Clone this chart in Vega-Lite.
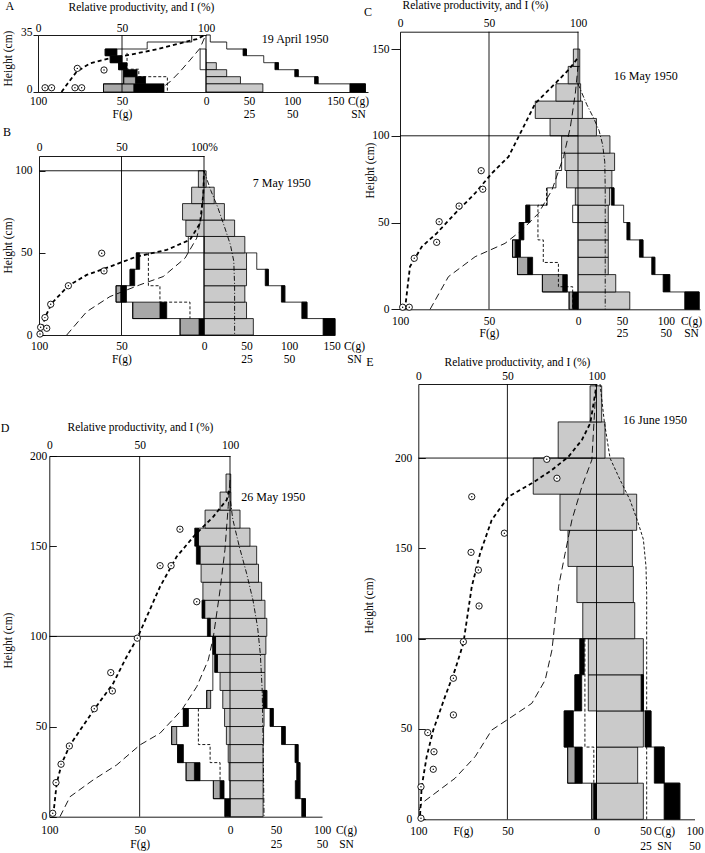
{
"$schema":"https://vega.github.io/schema/vega-lite/v6.json",
"width":705,"height":853,"autosize":{"type":"none"},"padding":0,
"config":{"font":"Liberation Serif","view":{"stroke":null},"axis":{"labelFontSize":11.5,"titleFontSize":11.5,"titleFontWeight":"normal","labelColor":"black","titleColor":"black","domainColor":"black","tickColor":"black","domainWidth":0.9,"tickWidth":0.9,"labelFlush":false,"labelOverlap":false,"grid":false}},
"datasets":{
"rects":[
{"P":"A","k":"H","y0":13.7,"y1":18,"g0":0,"g1":12},{"P":"A","k":"H","y0":9.4,"y1":13.7,"g0":0,"g1":24},{"P":"A","k":"H","y0":5,"y1":9.4,"g0":0,"g1":40},{"P":"A","k":"H","y0":0,"y1":5,"g0":0,"g1":66},
{"P":"A","k":"W","y0":13.7,"y1":26.4,"g0":-3.5,"g1":0},
{"P":"A","k":"B","y0":0,"y1":5,"g0":-43,"g1":-25},{"P":"A","k":"G","y0":0,"y1":5,"g0":-61,"g1":-43},{"P":"A","k":"B","y0":5,"y1":9.4,"g0":-42,"g1":-36},{"P":"A","k":"G","y0":5,"y1":9.4,"g0":-49,"g1":-42},{"P":"A","k":"B","y0":9.4,"y1":13.7,"g0":-49,"g1":-41},{"P":"A","k":"B","y0":13.7,"y1":18,"g0":-52,"g1":-47},{"P":"A","k":"B","y0":18,"y1":22.3,"g0":-57,"g1":-50},{"P":"A","k":"B","y0":22.3,"y1":26.4,"g0":-60,"g1":-53},
{"P":"A","k":"B","y0":22.3,"y1":26.4,"g0":43,"g1":47},{"P":"A","k":"B","y0":13.7,"y1":18,"g0":80,"g1":84},{"P":"A","k":"B","y0":9.4,"y1":13.7,"g0":103,"g1":107},{"P":"A","k":"B","y0":5,"y1":9.4,"g0":126,"g1":130},{"P":"A","k":"B","y0":0,"y1":5,"g0":167,"g1":185},

{"P":"B","k":"H","y0":0,"y1":10,"g0":0,"g1":58},{"P":"B","k":"H","y0":10,"y1":20,"g0":0,"g1":50},{"P":"B","k":"H","y0":20,"y1":30,"g0":0,"g1":48},{"P":"B","k":"H","y0":30,"y1":40,"g0":0,"g1":50},{"P":"B","k":"H","y0":40,"y1":50,"g0":0,"g1":50},{"P":"B","k":"H","y0":50,"y1":60,"g0":0,"g1":48},{"P":"B","k":"H","y0":60,"y1":70,"g0":-11,"g1":36},{"P":"B","k":"H","y0":70,"y1":80,"g0":-13,"g1":24},{"P":"B","k":"H","y0":80,"y1":90,"g0":-7.5,"g1":12},{"P":"B","k":"H","y0":90,"y1":100,"g0":-3.4,"g1":2.5},
{"P":"B","k":"W","y0":50,"y1":60,"g0":-9.5,"g1":0},
{"P":"B","k":"B","y0":0,"y1":10,"g0":-3,"g1":0},{"P":"B","k":"B","y0":10,"y1":20,"g0":-26.7,"g1":-22.6},{"P":"B","k":"B","y0":20,"y1":30,"g0":-50.5,"g1":-47},{"P":"B","k":"B","y0":30,"y1":40,"g0":-44.8,"g1":-42},{"P":"B","k":"B","y0":40,"y1":50,"g0":-41,"g1":-39},
{"P":"B","k":"G","y0":0,"y1":10,"g0":-14.5,"g1":-3},{"P":"B","k":"G","y0":10,"y1":20,"g0":-43.2,"g1":-26.7},{"P":"B","k":"G","y0":20,"y1":30,"g0":-53.3,"g1":-50.5},
{"P":"B","k":"B","y0":30,"y1":40,"g0":72,"g1":75.6},{"P":"B","k":"B","y0":20,"y1":30,"g0":91,"g1":95},{"P":"B","k":"B","y0":10,"y1":20,"g0":115,"g1":121},{"P":"B","k":"B","y0":0,"y1":10,"g0":140,"g1":154},

{"P":"C","k":"H","y0":0,"y1":10,"g0":0,"g1":59},{"P":"C","k":"H","y0":10,"y1":20,"g0":0,"g1":43},{"P":"C","k":"H","y0":20,"y1":30,"g0":0,"g1":34.5},{"P":"C","k":"H","y0":30,"y1":40,"g0":0,"g1":34.5},{"P":"C","k":"H","y0":40,"y1":50,"g0":0,"g1":34.5},{"P":"C","k":"H","y0":50,"y1":60,"g0":0,"g1":34.5},{"P":"C","k":"H","y0":60,"y1":70,"g0":-1.5,"g1":36},{"P":"C","k":"H","y0":70,"y1":80,"g0":-6.4,"g1":38.6},{"P":"C","k":"H","y0":80,"y1":90,"g0":-7.3,"g1":41.7},{"P":"C","k":"H","y0":90,"y1":100,"g0":-9.2,"g1":36.4},{"P":"C","k":"H","y0":100,"y1":110,"g0":-15.7,"g1":21},{"P":"C","k":"H","y0":110,"y1":120,"g0":-24,"g1":5},{"P":"C","k":"H","y0":120,"y1":130,"g0":-12.4,"g1":3},{"P":"C","k":"H","y0":130,"y1":140,"g0":-5.5,"g1":2},{"P":"C","k":"H","y0":140,"y1":150,"g0":-2.6,"g1":2},
{"P":"C","k":"W","y0":50,"y1":60,"g0":-3,"g1":0},
{"P":"C","k":"B","y0":0,"y1":10,"g0":-3,"g1":0},{"P":"C","k":"B","y0":10,"y1":20,"g0":-8.6,"g1":-6},{"P":"C","k":"B","y0":20,"y1":30,"g0":-28.3,"g1":-25.5},{"P":"C","k":"B","y0":30,"y1":40,"g0":-35.3,"g1":-32.3},{"P":"C","k":"B","y0":40,"y1":50,"g0":-33,"g1":-30.4},{"P":"C","k":"B","y0":50,"y1":60,"g0":-29.3,"g1":-27},
{"P":"C","k":"G","y0":0,"y1":10,"g0":-5,"g1":-3},{"P":"C","k":"G","y0":10,"y1":20,"g0":-20,"g1":-8.6},{"P":"C","k":"G","y0":20,"y1":30,"g0":-34,"g1":-28.3},{"P":"C","k":"G","y0":30,"y1":40,"g0":-36.8,"g1":-35.3},
{"P":"C","k":"B","y0":60,"y1":70,"g0":38,"g1":41},{"P":"C","k":"B","y0":40,"y1":50,"g0":55.7,"g1":59},{"P":"C","k":"B","y0":30,"y1":40,"g0":70,"g1":74},{"P":"C","k":"B","y0":20,"y1":30,"g0":84,"g1":87.5},{"P":"C","k":"B","y0":10,"y1":20,"g0":97,"g1":104.5},{"P":"C","k":"B","y0":0,"y1":10,"g0":121.6,"g1":138},

{"P":"D","k":"H","y0":0,"y1":10,"g0":0,"g1":36},{"P":"D","k":"H","y0":10,"y1":20,"g0":0,"g1":36},{"P":"D","k":"H","y0":20,"y1":30,"g0":-0.5,"g1":36},{"P":"D","k":"H","y0":30,"y1":40,"g0":-1,"g1":36},{"P":"D","k":"H","y0":40,"y1":50,"g0":-2,"g1":36.5},{"P":"D","k":"H","y0":50,"y1":60,"g0":-3,"g1":37},{"P":"D","k":"H","y0":60,"y1":70,"g0":-4,"g1":37},{"P":"D","k":"H","y0":70,"y1":80,"g0":-5.5,"g1":38},{"P":"D","k":"H","y0":80,"y1":90,"g0":-7,"g1":38},{"P":"D","k":"H","y0":90,"y1":100,"g0":-8,"g1":39},{"P":"D","k":"H","y0":100,"y1":110,"g0":-11,"g1":40},{"P":"D","k":"H","y0":110,"y1":120,"g0":-14,"g1":38},{"P":"D","k":"H","y0":120,"y1":130,"g0":-15,"g1":34.4},{"P":"D","k":"H","y0":130,"y1":140,"g0":-16,"g1":31},{"P":"D","k":"H","y0":140,"y1":150,"g0":-16.6,"g1":29},{"P":"D","k":"H","y0":150,"y1":160,"g0":-17.5,"g1":21.7},{"P":"D","k":"H","y0":160,"y1":170,"g0":-13.8,"g1":10.9},{"P":"D","k":"H","y0":170,"y1":180,"g0":-5.5,"g1":1},{"P":"D","k":"H","y0":180,"y1":190,"g0":-2.2,"g1":0.8},
{"P":"D","k":"B","y0":0,"y1":10,"g0":-2.8,"g1":0},{"P":"D","k":"B","y0":10,"y1":20,"g0":-5.5,"g1":-3.3},{"P":"D","k":"B","y0":20,"y1":30,"g0":-19.7,"g1":-16.6},{"P":"D","k":"B","y0":30,"y1":40,"g0":-29,"g1":-25.8},{"P":"D","k":"B","y0":50,"y1":60,"g0":-25.8,"g1":-23},{"P":"D","k":"B","y0":80,"y1":90,"g0":-8.5,"g1":-7},{"P":"D","k":"B","y0":90,"y1":100,"g0":-9.5,"g1":-8},{"P":"D","k":"B","y0":100,"y1":110,"g0":-12.5,"g1":-11},{"P":"D","k":"B","y0":110,"y1":120,"g0":-15.5,"g1":-14},{"P":"D","k":"B","y0":140,"y1":150,"g0":-18.6,"g1":-16.6},{"P":"D","k":"B","y0":150,"y1":160,"g0":-19.5,"g1":-17.5},
{"P":"D","k":"G","y0":10,"y1":20,"g0":-9.2,"g1":-5.5},{"P":"D","k":"G","y0":20,"y1":30,"g0":-24.3,"g1":-19.7},{"P":"D","k":"G","y0":40,"y1":50,"g0":-32.3,"g1":-29.5},{"P":"D","k":"G","y0":60,"y1":70,"g0":-12.9,"g1":-10.7},
{"P":"D","k":"B","y0":60,"y1":70,"g0":36,"g1":40},{"P":"D","k":"B","y0":50,"y1":60,"g0":43.5,"g1":47},{"P":"D","k":"B","y0":40,"y1":50,"g0":56,"g1":60},{"P":"D","k":"B","y0":30,"y1":40,"g0":70.7,"g1":74},{"P":"D","k":"B","y0":20,"y1":30,"g0":72.5,"g1":76},{"P":"D","k":"B","y0":10,"y1":20,"g0":71,"g1":76},{"P":"D","k":"B","y0":0,"y1":10,"g0":78,"g1":82},

{"P":"E","k":"H","y0":0,"y1":20,"g0":0,"g1":47.8},{"P":"E","k":"H","y0":20,"y1":40,"g0":0,"g1":42},{"P":"E","k":"H","y0":40,"y1":60,"g0":0,"g1":47.8},{"P":"E","k":"H","y0":60,"y1":80,"g0":-4.6,"g1":47.8},{"P":"E","k":"H","y0":80,"y1":100,"g0":-4.6,"g1":47.8},{"P":"E","k":"H","y0":100,"y1":120,"g0":-7.7,"g1":39},{"P":"E","k":"H","y0":120,"y1":140,"g0":-11,"g1":37.6},{"P":"E","k":"H","y0":140,"y1":160,"g0":-16,"g1":36.6},{"P":"E","k":"H","y0":160,"y1":180,"g0":-20.5,"g1":41},{"P":"E","k":"H","y0":180,"y1":200,"g0":-35.5,"g1":28},{"P":"E","k":"H","y0":200,"y1":220,"g0":-21.5,"g1":8.7},{"P":"E","k":"H","y0":220,"y1":240,"g0":-3.6,"g1":5.3},
{"P":"E","k":"B","y0":0,"y1":20,"g0":-1.6,"g1":0},{"P":"E","k":"B","y0":20,"y1":40,"g0":-12.1,"g1":-8},{"P":"E","k":"B","y0":40,"y1":60,"g0":-18.1,"g1":-13},{"P":"E","k":"B","y0":60,"y1":80,"g0":-12.1,"g1":-8.3},{"P":"E","k":"B","y0":80,"y1":100,"g0":-9.3,"g1":-6.9},
{"P":"E","k":"G","y0":0,"y1":20,"g0":-2.7,"g1":-1.6},{"P":"E","k":"G","y0":20,"y1":40,"g0":-16.2,"g1":-12.1},
{"P":"E","k":"B","y0":0,"y1":20,"g0":69,"g1":85},{"P":"E","k":"B","y0":20,"y1":40,"g0":59,"g1":69},{"P":"E","k":"B","y0":40,"y1":60,"g0":49.5,"g1":55.6},{"P":"E","k":"B","y0":60,"y1":80,"g0":45.5,"g1":48}
],
"lines":[
{"P":"A","s":"Fo","t":"s","o":1,"g":-8.5,"h":35},{"P":"A","s":"Fo","t":"s","o":2,"g":-8.5,"h":30.7},{"P":"A","s":"Fo","t":"s","o":3,"g":-35,"h":30.7},{"P":"A","s":"Fo","t":"s","o":4,"g":-35,"h":26.4},{"P":"A","s":"Fo","t":"s","o":5,"g":-60,"h":26.4},{"P":"A","s":"Fo","t":"s","o":6,"g":-60,"h":22.3},{"P":"A","s":"Fo","t":"s","o":7,"g":-57,"h":22.3},{"P":"A","s":"Fo","t":"s","o":8,"g":-57,"h":18},{"P":"A","s":"Fo","t":"s","o":9,"g":-52,"h":18},{"P":"A","s":"Fo","t":"s","o":10,"g":-52,"h":13.7},{"P":"A","s":"Fo","t":"s","o":11,"g":-49,"h":13.7},{"P":"A","s":"Fo","t":"s","o":12,"g":-49,"h":5},{"P":"A","s":"Fo","t":"s","o":13,"g":-61,"h":5},{"P":"A","s":"Fo","t":"s","o":14,"g":-61,"h":0},
{"P":"A","s":"Fd","t":"d","o":1,"g":-47,"h":24},{"P":"A","s":"Fd","t":"d","o":2,"g":-47,"h":14},{"P":"A","s":"Fd","t":"d","o":3,"g":-40,"h":14},{"P":"A","s":"Fd","t":"d","o":4,"g":-40,"h":9.4},{"P":"A","s":"Fd","t":"d","o":5,"g":-23,"h":9.4},{"P":"A","s":"Fd","t":"d","o":6,"g":-23,"h":0},
{"P":"A","s":"Co","t":"s","o":1,"g":0,"h":35},{"P":"A","s":"Co","t":"s","o":2,"g":5,"h":35},{"P":"A","s":"Co","t":"s","o":3,"g":5,"h":30.7},{"P":"A","s":"Co","t":"s","o":4,"g":24,"h":30.7},{"P":"A","s":"Co","t":"s","o":5,"g":24,"h":26.4},{"P":"A","s":"Co","t":"s","o":6,"g":47,"h":26.4},{"P":"A","s":"Co","t":"s","o":7,"g":47,"h":22.3},{"P":"A","s":"Co","t":"s","o":8,"g":67,"h":22.3},{"P":"A","s":"Co","t":"s","o":9,"g":67,"h":18},{"P":"A","s":"Co","t":"s","o":10,"g":84,"h":18},{"P":"A","s":"Co","t":"s","o":11,"g":84,"h":13.7},{"P":"A","s":"Co","t":"s","o":12,"g":107,"h":13.7},{"P":"A","s":"Co","t":"s","o":13,"g":107,"h":9.4},{"P":"A","s":"Co","t":"s","o":14,"g":130,"h":9.4},{"P":"A","s":"Co","t":"s","o":15,"g":130,"h":5},{"P":"A","s":"Co","t":"s","o":16,"g":185,"h":5},{"P":"A","s":"Co","t":"s","o":17,"g":185,"h":0},

{"P":"B","s":"Fo","t":"s","o":1,"g":-9.5,"h":50},{"P":"B","s":"Fo","t":"s","o":2,"g":-41,"h":50},{"P":"B","s":"Fo","t":"s","o":3,"g":-41,"h":40},{"P":"B","s":"Fo","t":"s","o":4,"g":-44.8,"h":40},{"P":"B","s":"Fo","t":"s","o":5,"g":-44.8,"h":30},{"P":"B","s":"Fo","t":"s","o":6,"g":-53.3,"h":30},{"P":"B","s":"Fo","t":"s","o":7,"g":-53.3,"h":20},{"P":"B","s":"Fo","t":"s","o":8,"g":-43.2,"h":20},{"P":"B","s":"Fo","t":"s","o":9,"g":-43.2,"h":10},{"P":"B","s":"Fo","t":"s","o":10,"g":-14.5,"h":10},{"P":"B","s":"Fo","t":"s","o":11,"g":-14.5,"h":0},
{"P":"B","s":"Fd","t":"d","o":1,"g":-33.7,"h":50},{"P":"B","s":"Fd","t":"d","o":2,"g":-33.7,"h":30},{"P":"B","s":"Fd","t":"d","o":3,"g":-26.7,"h":30},{"P":"B","s":"Fd","t":"d","o":4,"g":-26.7,"h":20},{"P":"B","s":"Fd","t":"d","o":5,"g":-8.5,"h":20},{"P":"B","s":"Fd","t":"d","o":6,"g":-8.5,"h":10},
{"P":"B","s":"Co","t":"s","o":1,"g":50,"h":50},{"P":"B","s":"Co","t":"s","o":2,"g":62,"h":50},{"P":"B","s":"Co","t":"s","o":3,"g":62,"h":40},{"P":"B","s":"Co","t":"s","o":4,"g":75.6,"h":40},{"P":"B","s":"Co","t":"s","o":5,"g":75.6,"h":30},{"P":"B","s":"Co","t":"s","o":6,"g":95,"h":30},{"P":"B","s":"Co","t":"s","o":7,"g":95,"h":20},{"P":"B","s":"Co","t":"s","o":8,"g":121,"h":20},{"P":"B","s":"Co","t":"s","o":9,"g":121,"h":10},{"P":"B","s":"Co","t":"s","o":10,"g":154,"h":10},{"P":"B","s":"Co","t":"s","o":11,"g":154,"h":0},
{"P":"B","s":"Cc","t":"c","o":1,"g":0,"h":100},{"P":"B","s":"Cc","t":"c","o":2,"g":8,"h":88},{"P":"B","s":"Cc","t":"c","o":3,"g":16,"h":78},{"P":"B","s":"Cc","t":"c","o":4,"g":24,"h":66},{"P":"B","s":"Cc","t":"c","o":5,"g":31,"h":55},{"P":"B","s":"Cc","t":"c","o":6,"g":35,"h":45},{"P":"B","s":"Cc","t":"c","o":7,"g":36,"h":30},{"P":"B","s":"Cc","t":"c","o":8,"g":36,"h":0},

{"P":"C","s":"Fo","t":"s","o":1,"g":-9.2,"h":90},{"P":"C","s":"Fo","t":"s","o":2,"g":-9.2,"h":80},{"P":"C","s":"Fo","t":"s","o":3,"g":-12.4,"h":80},{"P":"C","s":"Fo","t":"s","o":4,"g":-12.4,"h":70},{"P":"C","s":"Fo","t":"s","o":5,"g":-17.3,"h":70},{"P":"C","s":"Fo","t":"s","o":6,"g":-17.3,"h":60},{"P":"C","s":"Fo","t":"s","o":7,"g":-29.3,"h":60},{"P":"C","s":"Fo","t":"s","o":8,"g":-29.3,"h":50},{"P":"C","s":"Fo","t":"s","o":9,"g":-33,"h":50},{"P":"C","s":"Fo","t":"s","o":10,"g":-33,"h":40},{"P":"C","s":"Fo","t":"s","o":11,"g":-36.8,"h":40},{"P":"C","s":"Fo","t":"s","o":12,"g":-36.8,"h":30},{"P":"C","s":"Fo","t":"s","o":13,"g":-34,"h":30},{"P":"C","s":"Fo","t":"s","o":14,"g":-34,"h":20},{"P":"C","s":"Fo","t":"s","o":15,"g":-20,"h":20},{"P":"C","s":"Fo","t":"s","o":16,"g":-20,"h":10},{"P":"C","s":"Fo","t":"s","o":17,"g":-5,"h":10},{"P":"C","s":"Fo","t":"s","o":18,"g":-5,"h":0},
{"P":"C","s":"Fd","t":"d","o":1,"g":-17.7,"h":70},{"P":"C","s":"Fd","t":"d","o":2,"g":-17.7,"h":60},{"P":"C","s":"Fd","t":"d","o":3,"g":-22.5,"h":60},{"P":"C","s":"Fd","t":"d","o":4,"g":-22.5,"h":40},{"P":"C","s":"Fd","t":"d","o":5,"g":-19.5,"h":40},{"P":"C","s":"Fd","t":"d","o":6,"g":-19.5,"h":27},{"P":"C","s":"Fd","t":"d","o":7,"g":-11,"h":27},{"P":"C","s":"Fd","t":"d","o":8,"g":-11,"h":13},{"P":"C","s":"Fd","t":"d","o":9,"g":-3,"h":13},{"P":"C","s":"Fd","t":"d","o":10,"g":-3,"h":0},
{"P":"C","s":"Co","t":"s","o":1,"g":36,"h":70},{"P":"C","s":"Co","t":"s","o":2,"g":41,"h":70},{"P":"C","s":"Co","t":"s","o":3,"g":41,"h":60},{"P":"C","s":"Co","t":"s","o":4,"g":52,"h":60},{"P":"C","s":"Co","t":"s","o":5,"g":52,"h":50},{"P":"C","s":"Co","t":"s","o":6,"g":59,"h":50},{"P":"C","s":"Co","t":"s","o":7,"g":59,"h":40},{"P":"C","s":"Co","t":"s","o":8,"g":74,"h":40},{"P":"C","s":"Co","t":"s","o":9,"g":74,"h":30},{"P":"C","s":"Co","t":"s","o":10,"g":87.5,"h":30},{"P":"C","s":"Co","t":"s","o":11,"g":87.5,"h":20},{"P":"C","s":"Co","t":"s","o":12,"g":104.5,"h":20},{"P":"C","s":"Co","t":"s","o":13,"g":104.5,"h":10},{"P":"C","s":"Co","t":"s","o":14,"g":138,"h":10},{"P":"C","s":"Co","t":"s","o":15,"g":138,"h":0},
{"P":"C","s":"Cc","t":"c","o":1,"g":0,"h":130},{"P":"C","s":"Cc","t":"c","o":2,"g":10,"h":118},{"P":"C","s":"Cc","t":"c","o":3,"g":18,"h":110},{"P":"C","s":"Cc","t":"c","o":4,"g":24,"h":103},{"P":"C","s":"Cc","t":"c","o":5,"g":28,"h":95},{"P":"C","s":"Cc","t":"c","o":6,"g":30.5,"h":85},{"P":"C","s":"Cc","t":"c","o":7,"g":31,"h":70},{"P":"C","s":"Cc","t":"c","o":8,"g":31,"h":0},

{"P":"D","s":"Fo","t":"s","o":1,"g":-9.5,"h":100},{"P":"D","s":"Fo","t":"s","o":2,"g":-9.5,"h":70},{"P":"D","s":"Fo","t":"s","o":3,"g":-12.9,"h":70},{"P":"D","s":"Fo","t":"s","o":4,"g":-12.9,"h":60},{"P":"D","s":"Fo","t":"s","o":5,"g":-25.8,"h":60},{"P":"D","s":"Fo","t":"s","o":6,"g":-25.8,"h":50},{"P":"D","s":"Fo","t":"s","o":7,"g":-32.3,"h":50},{"P":"D","s":"Fo","t":"s","o":8,"g":-32.3,"h":40},{"P":"D","s":"Fo","t":"s","o":9,"g":-29,"h":40},{"P":"D","s":"Fo","t":"s","o":10,"g":-29,"h":30},{"P":"D","s":"Fo","t":"s","o":11,"g":-24.3,"h":30},{"P":"D","s":"Fo","t":"s","o":12,"g":-24.3,"h":20},{"P":"D","s":"Fo","t":"s","o":13,"g":-9.2,"h":20},{"P":"D","s":"Fo","t":"s","o":14,"g":-9.2,"h":10},{"P":"D","s":"Fo","t":"s","o":15,"g":-2.8,"h":10},{"P":"D","s":"Fo","t":"s","o":16,"g":-2.8,"h":0},
{"P":"D","s":"Fd","t":"d","o":1,"g":-17.5,"h":60},{"P":"D","s":"Fd","t":"d","o":2,"g":-17.5,"h":40},{"P":"D","s":"Fd","t":"d","o":3,"g":-11,"h":40},{"P":"D","s":"Fd","t":"d","o":4,"g":-11,"h":30},{"P":"D","s":"Fd","t":"d","o":5,"g":-5.5,"h":30},{"P":"D","s":"Fd","t":"d","o":6,"g":-5.5,"h":20},
{"P":"D","s":"Co","t":"s","o":1,"g":37,"h":70},{"P":"D","s":"Co","t":"s","o":2,"g":40,"h":70},{"P":"D","s":"Co","t":"s","o":3,"g":40,"h":60},{"P":"D","s":"Co","t":"s","o":4,"g":47,"h":60},{"P":"D","s":"Co","t":"s","o":5,"g":47,"h":50},{"P":"D","s":"Co","t":"s","o":6,"g":60,"h":50},{"P":"D","s":"Co","t":"s","o":7,"g":60,"h":40},{"P":"D","s":"Co","t":"s","o":8,"g":74,"h":40},{"P":"D","s":"Co","t":"s","o":9,"g":74,"h":30},{"P":"D","s":"Co","t":"s","o":10,"g":76,"h":30},{"P":"D","s":"Co","t":"s","o":11,"g":76,"h":10},{"P":"D","s":"Co","t":"s","o":12,"g":82,"h":10},{"P":"D","s":"Co","t":"s","o":13,"g":82,"h":0},
{"P":"D","s":"Cc","t":"c","o":1,"g":0.5,"h":175},{"P":"D","s":"Cc","t":"c","o":2,"g":3,"h":165},{"P":"D","s":"Cc","t":"c","o":3,"g":10,"h":150},{"P":"D","s":"Cc","t":"c","o":4,"g":18,"h":135},{"P":"D","s":"Cc","t":"c","o":5,"g":25,"h":120},{"P":"D","s":"Cc","t":"c","o":6,"g":30,"h":105},{"P":"D","s":"Cc","t":"c","o":7,"g":33,"h":90},{"P":"D","s":"Cc","t":"c","o":8,"g":35,"h":70},{"P":"D","s":"Cc","t":"c","o":9,"g":36,"h":40},{"P":"D","s":"Cc","t":"c","o":10,"g":37,"h":0},

{"P":"E","s":"Fo","t":"s","o":1,"g":-9.3,"h":100},{"P":"E","s":"Fo","t":"s","o":2,"g":-9.3,"h":80},{"P":"E","s":"Fo","t":"s","o":3,"g":-12.1,"h":80},{"P":"E","s":"Fo","t":"s","o":4,"g":-12.1,"h":60},{"P":"E","s":"Fo","t":"s","o":5,"g":-18.1,"h":60},{"P":"E","s":"Fo","t":"s","o":6,"g":-18.1,"h":40},{"P":"E","s":"Fo","t":"s","o":7,"g":-16.2,"h":40},{"P":"E","s":"Fo","t":"s","o":8,"g":-16.2,"h":20},{"P":"E","s":"Fo","t":"s","o":9,"g":-2.7,"h":20},{"P":"E","s":"Fo","t":"s","o":10,"g":-2.7,"h":0},
{"P":"E","s":"Fd","t":"d","o":1,"g":-6.5,"h":100},{"P":"E","s":"Fd","t":"d","o":2,"g":-6.5,"h":40},{"P":"E","s":"Fd","t":"d","o":3,"g":-1.5,"h":40},{"P":"E","s":"Fd","t":"d","o":4,"g":-1.5,"h":20},
{"P":"E","s":"Co","t":"s","o":1,"g":47.8,"h":60},{"P":"E","s":"Co","t":"s","o":2,"g":55.6,"h":60},{"P":"E","s":"Co","t":"s","o":3,"g":55.6,"h":40},{"P":"E","s":"Co","t":"s","o":4,"g":69,"h":40},{"P":"E","s":"Co","t":"s","o":5,"g":69,"h":20},{"P":"E","s":"Co","t":"s","o":6,"g":85,"h":20},{"P":"E","s":"Co","t":"s","o":7,"g":85,"h":0},
{"P":"E","s":"Cc","t":"d","o":1,"g":3.6,"h":241},{"P":"E","s":"Cc","t":"d","o":2,"g":8,"h":220},{"P":"E","s":"Cc","t":"d","o":3,"g":13.8,"h":200},{"P":"E","s":"Cc","t":"d","o":4,"g":24,"h":188},{"P":"E","s":"Cc","t":"d","o":5,"g":34,"h":177},{"P":"E","s":"Cc","t":"d","o":6,"g":42,"h":165},{"P":"E","s":"Cc","t":"d","o":7,"g":47.8,"h":155},{"P":"E","s":"Cc","t":"d","o":8,"g":50.5,"h":140},{"P":"E","s":"Cc","t":"d","o":9,"g":51.2,"h":125},{"P":"E","s":"Cc","t":"d","o":10,"g":51.2,"h":0}
],
"rules":[
{"P":"A","x":50,"x2":50,"y":0,"y2":35},{"P":"A","x":100,"x2":100,"y":0,"y2":35},
{"P":"B","x":50,"x2":50,"y":0,"y2":109},{"P":"B","x":100,"x2":100,"y":0,"y2":109},{"P":"B","x":0,"x2":100,"y":100,"y2":100},
{"P":"C","x":50,"x2":50,"y":0,"y2":160},{"P":"C","x":100,"x2":100,"y":0,"y2":160},{"P":"C","x":0,"x2":100,"y":100,"y2":100},
{"P":"D","x":50,"x2":50,"y":0,"y2":200},{"P":"D","x":100,"x2":100,"y":0,"y2":200},{"P":"D","x":0,"x2":100,"y":100,"y2":100},
{"P":"E","x":50,"x2":50,"y":0,"y2":241},{"P":"E","x":100,"x2":100,"y":0,"y2":241},{"P":"E","x":0,"x2":100,"y":100,"y2":100},{"P":"E","x":0,"x2":100,"y":200,"y2":200}
],
"curves":[
{"P":"A","c":"RP","p":14,"h":0},{"P":"A","c":"RP","p":17,"h":4.3},{"P":"A","c":"RP","p":23,"h":12.5},{"P":"A","c":"RP","p":31,"h":17.6},{"P":"A","c":"RP","p":42.9,"h":20.7},{"P":"A","c":"RP","p":56.7,"h":23.3},{"P":"A","c":"RP","p":70.6,"h":26.2},{"P":"A","c":"RP","p":84.5,"h":29.9},{"P":"A","c":"RP","p":94.5,"h":32.5},{"P":"A","c":"RP","p":99.4,"h":35},
{"P":"A","c":"I","p":70.6,"h":0},{"P":"A","c":"I","p":78.6,"h":6.3},{"P":"A","c":"I","p":84.5,"h":12.5},{"P":"A","c":"I","p":90.5,"h":19.6},{"P":"A","c":"I","p":96.4,"h":26.8},{"P":"A","c":"I","p":99.4,"h":34},
{"P":"B","c":"RP","p":0.6,"h":0},{"P":"B","c":"RP","p":3.6,"h":10.5},{"P":"B","c":"RP","p":7.7,"h":19.3},{"P":"B","c":"RP","p":17.8,"h":30},{"P":"B","c":"RP","p":28.9,"h":36.6},{"P":"B","c":"RP","p":43,"h":41.6},{"P":"B","c":"RP","p":59,"h":47.7},{"P":"B","c":"RP","p":77.4,"h":51.8},{"P":"B","c":"RP","p":91.5,"h":58},{"P":"B","c":"RP","p":97.6,"h":68},{"P":"B","c":"RP","p":99.6,"h":86},{"P":"B","c":"RP","p":100,"h":100},
{"P":"B","c":"I","p":16.8,"h":0},{"P":"B","c":"I","p":28.9,"h":14.2},{"P":"B","c":"I","p":43,"h":23.4},{"P":"B","c":"I","p":61,"h":30.5},{"P":"B","c":"I","p":75.3,"h":35.6},{"P":"B","c":"I","p":88.5,"h":46.8},{"P":"B","c":"I","p":95.6,"h":59},{"P":"B","c":"I","p":98.6,"h":73},{"P":"B","c":"I","p":99.6,"h":88},{"P":"B","c":"I","p":100,"h":99},
{"P":"C","c":"RP","p":2.8,"h":0},{"P":"C","c":"RP","p":5.6,"h":24.6},{"P":"C","c":"RP","p":12.2,"h":36},{"P":"C","c":"RP","p":20.6,"h":43.8},{"P":"C","c":"RP","p":31,"h":55.3},{"P":"C","c":"RP","p":42.2,"h":66.9},{"P":"C","c":"RP","p":51.6,"h":78.4},{"P":"C","c":"RP","p":61,"h":88},{"P":"C","c":"RP","p":68.5,"h":103.3},{"P":"C","c":"RP","p":76,"h":118.7},{"P":"C","c":"RP","p":85.4,"h":128.3},{"P":"C","c":"RP","p":94.7,"h":138},{"P":"C","c":"RP","p":100,"h":145},
{"P":"C","c":"I","p":16.9,"h":0},{"P":"C","c":"I","p":27.2,"h":18.8},{"P":"C","c":"I","p":42.2,"h":30.3},{"P":"C","c":"I","p":59,"h":38},{"P":"C","c":"I","p":68.5,"h":45.7},{"P":"C","c":"I","p":77.8,"h":55.3},{"P":"C","c":"I","p":85.4,"h":68.8},{"P":"C","c":"I","p":91.9,"h":88},{"P":"C","c":"I","p":95.7,"h":105},{"P":"C","c":"I","p":98.5,"h":124.5},{"P":"C","c":"I","p":100,"h":140},
{"P":"D","c":"RP","p":2.2,"h":0.9},{"P":"D","c":"RP","p":4.1,"h":18.5},{"P":"D","c":"RP","p":6.9,"h":29.6},{"P":"D","c":"RP","p":11.5,"h":39.8},{"P":"D","c":"RP","p":25.3,"h":60.1},{"P":"D","c":"RP","p":35.4,"h":74},{"P":"D","c":"RP","p":42.8,"h":88.7},{"P":"D","c":"RP","p":48.7,"h":99},{"P":"D","c":"RP","p":61.3,"h":127.6},{"P":"D","c":"RP","p":70.5,"h":144.2},{"P":"D","c":"RP","p":80.6,"h":156.2},{"P":"D","c":"RP","p":90.8,"h":166.4},{"P":"D","c":"RP","p":98.2,"h":175.7},{"P":"D","c":"RP","p":100,"h":183},
{"P":"D","c":"I","p":5.9,"h":0},{"P":"D","c":"I","p":11.5,"h":11.1},{"P":"D","c":"I","p":24.3,"h":20.4},{"P":"D","c":"I","p":37.3,"h":28.7},{"P":"D","c":"I","p":50.2,"h":39.8},{"P":"D","c":"I","p":61.3,"h":46.3},{"P":"D","c":"I","p":73.3,"h":59.2},{"P":"D","c":"I","p":81.6,"h":72.1},{"P":"D","c":"I","p":88,"h":87},{"P":"D","c":"I","p":90.8,"h":99.8},{"P":"D","c":"I","p":94.5,"h":125.7},{"P":"D","c":"I","p":97.2,"h":148},{"P":"D","c":"I","p":99,"h":172},{"P":"D","c":"I","p":100,"h":186.7},
{"P":"E","c":"RP","p":1,"h":2.4},{"P":"E","c":"RP","p":1.9,"h":18},{"P":"E","c":"RP","p":4.7,"h":34.7},{"P":"E","c":"RP","p":8.4,"h":49.4},{"P":"E","c":"RP","p":15,"h":67.9},{"P":"E","c":"RP","p":20.6,"h":82.7},{"P":"E","c":"RP","p":25.3,"h":97.5},{"P":"E","c":"RP","p":30,"h":128.8},{"P":"E","c":"RP","p":34.7,"h":147.3},{"P":"E","c":"RP","p":41.2,"h":165.7},{"P":"E","c":"RP","p":50.6,"h":178.6},{"P":"E","c":"RP","p":63.7,"h":186},{"P":"E","c":"RP","p":75,"h":193.4},{"P":"E","c":"RP","p":84.3,"h":200.8},{"P":"E","c":"RP","p":91.8,"h":210},{"P":"E","c":"RP","p":96.5,"h":219.3},{"P":"E","c":"RP","p":99.3,"h":235.9},{"P":"E","c":"RP","p":100,"h":241},
{"P":"E","c":"I","p":0.5,"h":5},{"P":"E","c":"I","p":1.9,"h":8.9},{"P":"E","c":"I","p":9.4,"h":14.4},{"P":"E","c":"I","p":20.6,"h":22.7},{"P":"E","c":"I","p":31.9,"h":34.7},{"P":"E","c":"I","p":41.2,"h":49.4},{"P":"E","c":"I","p":52.5,"h":56.8},{"P":"E","c":"I","p":63.7,"h":64.2},{"P":"E","c":"I","p":71.2,"h":77.1},{"P":"E","c":"I","p":75,"h":93.7},{"P":"E","c":"I","p":75.8,"h":101},{"P":"E","c":"I","p":78.7,"h":128.8},{"P":"E","c":"I","p":82.4,"h":147.3},{"P":"E","c":"I","p":86.2,"h":165.7},{"P":"E","c":"I","p":91.8,"h":184.2},{"P":"E","c":"I","p":97.4,"h":199},{"P":"E","c":"I","p":99.5,"h":236}
],
"circles":[
{"P":"A","p":4.2,"h":2.6},{"P":"A","p":8.1,"h":2.6},{"P":"A","p":22,"h":2.6},{"P":"A","p":26,"h":2.6},{"P":"A","p":23.4,"h":14.5},{"P":"A","p":39.3,"h":13.5},
{"P":"B","p":0.6,"h":0.6},{"P":"B","p":1,"h":4.7},{"P":"B","p":4.7,"h":4.1},{"P":"B","p":3.6,"h":10.6},{"P":"B","p":7.1,"h":18.7},{"P":"B","p":17.8,"h":30},{"P":"B","p":38,"h":49.8},{"P":"B","p":39.4,"h":39},
{"P":"C","p":1.5,"h":1.2},{"P":"C","p":5.2,"h":1.2},{"P":"C","p":8,"h":29.4},{"P":"C","p":20.6,"h":38.6},{"P":"C","p":22,"h":50.5},{"P":"C","p":33.2,"h":59.5},{"P":"C","p":46.5,"h":69.2},{"P":"C","p":45.6,"h":79.9},
{"P":"D","p":1.9,"h":1.9},{"P":"D","p":3.7,"h":18.9},{"P":"D","p":6.5,"h":29.1},{"P":"D","p":11.1,"h":39.2},{"P":"D","p":24.9,"h":59.9},{"P":"D","p":34.9,"h":69.7},{"P":"D","p":34,"h":79.9},{"P":"D","p":48.7,"h":99},{"P":"D","p":81.6,"h":119.2},{"P":"D","p":61.3,"h":139.2},{"P":"D","p":67.4,"h":139.2},{"P":"D","p":72.3,"h":159.4},
{"P":"E","p":1.5,"h":0.6},{"P":"E","p":1.5,"h":18},{"P":"E","p":5.3,"h":48},{"P":"E","p":8.4,"h":27.7},{"P":"E","p":8.8,"h":37.4},{"P":"E","p":19.7,"h":57.8},{"P":"E","p":19.7,"h":78.1},{"P":"E","p":25.3,"h":98.3},{"P":"E","p":33.7,"h":138},{"P":"E","p":34.1,"h":118.1},{"P":"E","p":29.6,"h":147.8},{"P":"E","p":30,"h":178.6},{"P":"E","p":48.3,"h":158.4},{"P":"E","p":72.1,"h":199.3},{"P":"E","p":77.8,"h":188.8}
],
"texts":[
{"P":"A","g":103.5,"h":32.3,"txt":"19 April 1950"},{"P":"A","g":-116.7,"h":52.8,"txt":"A"},
{"P":"B","g":91.4,"h":92.5,"txt":"7 May 1950"},{"P":"B","g":-119.4,"h":123.8,"txt":"B"},
{"P":"C","g":77.3,"h":134.6,"txt":"16 May 1950"},{"P":"C","g":-118,"h":171.4,"txt":"C"},
{"P":"D","g":47,"h":177.5,"txt":"26 May 1950"},{"P":"D","g":-124.5,"h":215.6,"txt":"D"},
{"P":"E","g":59.7,"h":221,"txt":"16 June 1950"},{"P":"E","g":-127.2,"h":253.2,"txt":"E"}
]
},
"resolve":{"scale":{"x":"independent","y":"independent"},"axis":{"x":"independent","y":"independent"}},
"layer":[
{"data":{"name":"rects"},"transform":[{"filter":"datum.P=='A'"}],"mark":{"type":"rect","stroke":"black","strokeWidth":0.8},
"encoding":{"x":{"field":"g0","type":"quantitative","scale":{"domain":[-100,0,188],"range":[38,206,368],"zero":false,"nice":false},"axis":{"orient":"bottom","offset":-761,"values":[-100,-50,0,50,100,150],"ticks":false,"labelPadding":3,"labelLineHeight":13,"labelExpr":"datum.value==-100?'100':datum.value==-50?['50','F(g)']:datum.value==0?'0':datum.value==50?['50','25']:datum.value==100?['100','50']:'150'","title":["C(g)","SN"],"titleX":358,"titleY":3,"titleAngle":0,"titleAlign":"center","titleBaseline":"top","titleLineHeight":13}},"x2":{"field":"g1"},
"y":{"field":"y0","type":"quantitative","scale":{"domain":[0,35],"range":[92,35],"zero":false,"nice":false},"axis":null},"y2":{"field":"y1"},
"fill":{"field":"k","type":"nominal","scale":{"domain":["H","B","G","W"],"range":["#cacaca","#000000","#a8a8a8","#ffffff"]},"legend":null}}},
{"data":{"name":"lines"},"transform":[{"filter":"datum.P=='A'"}],"mark":{"type":"line","color":"black","strokeWidth":0.9},
"encoding":{"x":{"field":"g","type":"quantitative","scale":{"domain":[-100,0,188],"range":[38,206,368],"zero":false,"nice":false},"axis":null},"y":{"field":"h","type":"quantitative","scale":{"domain":[0,35],"range":[92,35],"zero":false,"nice":false},"axis":null},"detail":{"field":"s","type":"nominal"},"order":{"field":"o","type":"quantitative"},"strokeDash":{"condition":[{"test":"datum.t=='d'","value":[3,2]},{"test":"datum.t=='c'","value":[5,2,1,2]}],"value":[1,0]}}},
{"data":{"name":"rules"},"transform":[{"filter":"datum.P=='A'"}],"mark":{"type":"rule","color":"black","strokeWidth":0.9},
"encoding":{"x":{"field":"x","type":"quantitative","scale":{"domain":[0,100],"range":[38,206],"zero":false,"nice":false},"axis":{"orient":"top","offset":-35,"values":[0,50,100],"ticks":false,"labelPadding":2,"title":"Relative productivity, and I (%)","titleX":141,"titleY":-28,"titleAngle":0,"titleAlign":"center","titleBaseline":"middle"}},"x2":{"field":"x2"},
"y":{"field":"y","type":"quantitative","scale":{"domain":[0,35],"range":[92,35],"zero":false,"nice":false},"axis":{"orient":"left","offset":-38,"values":[0,35],"tickSize":5,"labelPadding":1,"labelOffset":-3,"title":"Height (cm)","titleX":-30,"titleY":58,"titleAngle":-90,"titleAlign":"center","titleBaseline":"middle"}},"y2":{"field":"y2"}}},
{"data":{"name":"curves"},"transform":[{"filter":"datum.P=='A'"}],"mark":{"type":"line","color":"black"},
"encoding":{"x":{"field":"p","type":"quantitative","scale":{"domain":[0,100],"range":[38,206],"zero":false,"nice":false},"axis":null},"y":{"field":"h","type":"quantitative","scale":{"domain":[0,35],"range":[92,35],"zero":false,"nice":false},"axis":null},"detail":{"field":"c","type":"nominal"},"order":{"field":"h","type":"quantitative"},"strokeDash":{"condition":{"test":"datum.c=='RP'","value":[4,3]},"value":[7,4]},"strokeWidth":{"condition":{"test":"datum.c=='RP'","value":1.8},"value":0.9}}},
{"data":{"name":"circles"},"transform":[{"filter":"datum.P=='A'"}],"mark":{"type":"point","shape":"circle","size":40,"filled":true,"fill":"white","stroke":"black","strokeWidth":0.9,"opacity":1},
"encoding":{"x":{"field":"p","type":"quantitative","scale":{"domain":[0,100],"range":[38,206],"zero":false,"nice":false},"axis":null},"y":{"field":"h","type":"quantitative","scale":{"domain":[0,35],"range":[92,35],"zero":false,"nice":false},"axis":null}}},
{"data":{"name":"circles"},"transform":[{"filter":"datum.P=='A'"}],"mark":{"type":"circle","size":2,"color":"black","opacity":1},
"encoding":{"x":{"field":"p","type":"quantitative","scale":{"domain":[0,100],"range":[38,206],"zero":false,"nice":false},"axis":null},"y":{"field":"h","type":"quantitative","scale":{"domain":[0,35],"range":[92,35],"zero":false,"nice":false},"axis":null}}},
{"data":{"name":"texts"},"transform":[{"filter":"datum.P=='A'"}],"mark":{"type":"text","fontSize":12,"align":"center","baseline":"middle","color":"black"},
"encoding":{"x":{"field":"g","type":"quantitative","scale":{"domain":[-100,0,188],"range":[38,206,368],"zero":false,"nice":false},"axis":null},"y":{"field":"h","type":"quantitative","scale":{"domain":[0,35],"range":[92,35],"zero":false,"nice":false},"axis":null},"text":{"field":"txt","type":"nominal"}}},

{"data":{"name":"rects"},"transform":[{"filter":"datum.P=='B'"}],"mark":{"type":"rect","stroke":"black","strokeWidth":0.8},
"encoding":{"x":{"field":"g0","type":"quantitative","scale":{"domain":[-100,0,154],"range":[39,204,335],"zero":false,"nice":false},"axis":{"orient":"bottom","offset":-518,"values":[-100,-50,0,50,100,150],"ticks":false,"labelPadding":5.5,"labelLineHeight":13.3,"labelExpr":"datum.value==-100?'100':datum.value==-50?['50','F(g)']:datum.value==0?'0':datum.value==50?['50','25']:datum.value==100?['100','50']:'150'","title":["C(g)","SN"],"titleX":354,"titleY":5.5,"titleAngle":0,"titleAlign":"center","titleBaseline":"top","titleLineHeight":13.3}},"x2":{"field":"g1"},
"y":{"field":"y0","type":"quantitative","scale":{"domain":[0,109],"range":[335,156],"zero":false,"nice":false},"axis":null},"y2":{"field":"y1"},
"fill":{"field":"k","type":"nominal","scale":{"domain":["H","B","G","W"],"range":["#cacaca","#000000","#a8a8a8","#ffffff"]},"legend":null}}},
{"data":{"name":"lines"},"transform":[{"filter":"datum.P=='B'"}],"mark":{"type":"line","color":"black","strokeWidth":0.9},
"encoding":{"x":{"field":"g","type":"quantitative","scale":{"domain":[-100,0,154],"range":[39,204,335],"zero":false,"nice":false},"axis":null},"y":{"field":"h","type":"quantitative","scale":{"domain":[0,109],"range":[335,156],"zero":false,"nice":false},"axis":null},"detail":{"field":"s","type":"nominal"},"order":{"field":"o","type":"quantitative"},"strokeDash":{"condition":[{"test":"datum.t=='d'","value":[3,2]},{"test":"datum.t=='c'","value":[5,2,1,2]}],"value":[1,0]}}},
{"data":{"name":"rules"},"transform":[{"filter":"datum.P=='B'"}],"mark":{"type":"rule","color":"black","strokeWidth":0.9},
"encoding":{"x":{"field":"x","type":"quantitative","scale":{"domain":[0,100],"range":[39,204],"zero":false,"nice":false},"axis":{"orient":"top","offset":-156,"values":[0,50,100],"ticks":false,"labelPadding":4,"labelExpr":"datum.value==100?'100%':datum.label","title":null}},"x2":{"field":"x2"},
"y":{"field":"y","type":"quantitative","scale":{"domain":[0,109],"range":[335,156],"zero":false,"nice":false},"axis":{"orient":"left","offset":-39,"values":[0,50,100],"tickSize":-6,"labelPadding":13,"title":"Height (cm)","titleX":-31,"titleY":245,"titleAngle":-90,"titleAlign":"center","titleBaseline":"middle"}},"y2":{"field":"y2"}}},
{"data":{"name":"curves"},"transform":[{"filter":"datum.P=='B'"}],"mark":{"type":"line","color":"black"},
"encoding":{"x":{"field":"p","type":"quantitative","scale":{"domain":[0,100],"range":[39,204],"zero":false,"nice":false},"axis":null},"y":{"field":"h","type":"quantitative","scale":{"domain":[0,109],"range":[335,156],"zero":false,"nice":false},"axis":null},"detail":{"field":"c","type":"nominal"},"order":{"field":"h","type":"quantitative"},"strokeDash":{"condition":{"test":"datum.c=='RP'","value":[4,3]},"value":[7,4]},"strokeWidth":{"condition":{"test":"datum.c=='RP'","value":1.8},"value":0.9}}},
{"data":{"name":"circles"},"transform":[{"filter":"datum.P=='B'"}],"mark":{"type":"point","shape":"circle","size":40,"filled":true,"fill":"white","stroke":"black","strokeWidth":0.9,"opacity":1},
"encoding":{"x":{"field":"p","type":"quantitative","scale":{"domain":[0,100],"range":[39,204],"zero":false,"nice":false},"axis":null},"y":{"field":"h","type":"quantitative","scale":{"domain":[0,109],"range":[335,156],"zero":false,"nice":false},"axis":null}}},
{"data":{"name":"circles"},"transform":[{"filter":"datum.P=='B'"}],"mark":{"type":"circle","size":2,"color":"black","opacity":1},
"encoding":{"x":{"field":"p","type":"quantitative","scale":{"domain":[0,100],"range":[39,204],"zero":false,"nice":false},"axis":null},"y":{"field":"h","type":"quantitative","scale":{"domain":[0,109],"range":[335,156],"zero":false,"nice":false},"axis":null}}},
{"data":{"name":"texts"},"transform":[{"filter":"datum.P=='B'"}],"mark":{"type":"text","fontSize":12,"align":"center","baseline":"middle","color":"black"},
"encoding":{"x":{"field":"g","type":"quantitative","scale":{"domain":[-100,0,154],"range":[39,204,335],"zero":false,"nice":false},"axis":null},"y":{"field":"h","type":"quantitative","scale":{"domain":[0,109],"range":[335,156],"zero":false,"nice":false},"axis":null},"text":{"field":"txt","type":"nominal"}}},

{"data":{"name":"rects"},"transform":[{"filter":"datum.P=='C'"}],"mark":{"type":"rect","stroke":"black","strokeWidth":0.8},
"encoding":{"x":{"field":"g0","type":"quantitative","scale":{"domain":[-100,0,139],"range":[400,578,700],"zero":false,"nice":false},"axis":{"orient":"bottom","offset":-543.7,"values":[-100,-50,0,50,100],"ticks":false,"labelPadding":6,"labelLineHeight":12.5,"labelExpr":"datum.value==-100?'100':datum.value==-50?['50','F(g)']:datum.value==0?'0':datum.value==50?['50','25']:['100','50']","title":["C(g)","SN"],"titleX":691,"titleY":6,"titleAngle":0,"titleAlign":"center","titleBaseline":"top","titleLineHeight":12.5}},"x2":{"field":"g1"},
"y":{"field":"y0","type":"quantitative","scale":{"domain":[0,160],"range":[309.3,31.7],"zero":false,"nice":false},"axis":null},"y2":{"field":"y1"},
"fill":{"field":"k","type":"nominal","scale":{"domain":["H","B","G","W"],"range":["#cacaca","#000000","#a8a8a8","#ffffff"]},"legend":null}}},
{"data":{"name":"lines"},"transform":[{"filter":"datum.P=='C'"}],"mark":{"type":"line","color":"black","strokeWidth":0.9},
"encoding":{"x":{"field":"g","type":"quantitative","scale":{"domain":[-100,0,139],"range":[400,578,700],"zero":false,"nice":false},"axis":null},"y":{"field":"h","type":"quantitative","scale":{"domain":[0,160],"range":[309.3,31.7],"zero":false,"nice":false},"axis":null},"detail":{"field":"s","type":"nominal"},"order":{"field":"o","type":"quantitative"},"strokeDash":{"condition":[{"test":"datum.t=='d'","value":[3,2]},{"test":"datum.t=='c'","value":[5,2,1,2]}],"value":[1,0]}}},
{"data":{"name":"rules"},"transform":[{"filter":"datum.P=='C'"}],"mark":{"type":"rule","color":"black","strokeWidth":0.9},
"encoding":{"x":{"field":"x","type":"quantitative","scale":{"domain":[0,100],"range":[400,578],"zero":false,"nice":false},"axis":{"orient":"top","offset":-31.7,"values":[0,50,100],"ticks":false,"labelPadding":3,"title":"Relative productivity, and I (%)","titleX":475,"titleY":-26.7,"titleAngle":0,"titleAlign":"center","titleBaseline":"middle"}},"x2":{"field":"x2"},
"y":{"field":"y","type":"quantitative","scale":{"domain":[0,160],"range":[309.3,31.7],"zero":false,"nice":false},"axis":{"orient":"left","offset":-400,"values":[0,50,100,150],"tickSize":9,"labelPadding":2,"title":"Height (cm)","titleX":-30,"titleY":170,"titleAngle":-90,"titleAlign":"center","titleBaseline":"middle"}},"y2":{"field":"y2"}}},
{"data":{"name":"curves"},"transform":[{"filter":"datum.P=='C'"}],"mark":{"type":"line","color":"black"},
"encoding":{"x":{"field":"p","type":"quantitative","scale":{"domain":[0,100],"range":[400,578],"zero":false,"nice":false},"axis":null},"y":{"field":"h","type":"quantitative","scale":{"domain":[0,160],"range":[309.3,31.7],"zero":false,"nice":false},"axis":null},"detail":{"field":"c","type":"nominal"},"order":{"field":"h","type":"quantitative"},"strokeDash":{"condition":{"test":"datum.c=='RP'","value":[4,3]},"value":[7,4]},"strokeWidth":{"condition":{"test":"datum.c=='RP'","value":1.8},"value":0.9}}},
{"data":{"name":"circles"},"transform":[{"filter":"datum.P=='C'"}],"mark":{"type":"point","shape":"circle","size":40,"filled":true,"fill":"white","stroke":"black","strokeWidth":0.9,"opacity":1},
"encoding":{"x":{"field":"p","type":"quantitative","scale":{"domain":[0,100],"range":[400,578],"zero":false,"nice":false},"axis":null},"y":{"field":"h","type":"quantitative","scale":{"domain":[0,160],"range":[309.3,31.7],"zero":false,"nice":false},"axis":null}}},
{"data":{"name":"circles"},"transform":[{"filter":"datum.P=='C'"}],"mark":{"type":"circle","size":2,"color":"black","opacity":1},
"encoding":{"x":{"field":"p","type":"quantitative","scale":{"domain":[0,100],"range":[400,578],"zero":false,"nice":false},"axis":null},"y":{"field":"h","type":"quantitative","scale":{"domain":[0,160],"range":[309.3,31.7],"zero":false,"nice":false},"axis":null}}},
{"data":{"name":"texts"},"transform":[{"filter":"datum.P=='C'"}],"mark":{"type":"text","fontSize":12,"align":"center","baseline":"middle","color":"black"},
"encoding":{"x":{"field":"g","type":"quantitative","scale":{"domain":[-100,0,139],"range":[400,578,700],"zero":false,"nice":false},"axis":null},"y":{"field":"h","type":"quantitative","scale":{"domain":[0,160],"range":[309.3,31.7],"zero":false,"nice":false},"axis":null},"text":{"field":"txt","type":"nominal"}}},

{"data":{"name":"rects"},"transform":[{"filter":"datum.P=='D'"}],"mark":{"type":"rect","stroke":"black","strokeWidth":0.8},
"encoding":{"x":{"field":"g0","type":"quantitative","scale":{"domain":[-100,0,100],"range":[49.3,230,322],"zero":false,"nice":false},"axis":{"orient":"bottom","offset":-36.3,"values":[-100,-50,0,50,100],"ticks":false,"labelPadding":8,"labelLineHeight":14,"labelExpr":"datum.value==-100?'100':datum.value==-50?['50','F(g)']:datum.value==0?'0':datum.value==50?['50','25']:['100','50']","title":["C(g)","SN"],"titleX":346,"titleY":8,"titleAngle":0,"titleAlign":"center","titleBaseline":"top","titleLineHeight":14}},"x2":{"field":"g1"},
"y":{"field":"y0","type":"quantitative","scale":{"domain":[0,200],"range":[816.7,456],"zero":false,"nice":false},"axis":null},"y2":{"field":"y1"},
"fill":{"field":"k","type":"nominal","scale":{"domain":["H","B","G","W"],"range":["#cacaca","#000000","#a8a8a8","#ffffff"]},"legend":null}}},
{"data":{"name":"lines"},"transform":[{"filter":"datum.P=='D'"}],"mark":{"type":"line","color":"black","strokeWidth":0.9},
"encoding":{"x":{"field":"g","type":"quantitative","scale":{"domain":[-100,0,100],"range":[49.3,230,322],"zero":false,"nice":false},"axis":null},"y":{"field":"h","type":"quantitative","scale":{"domain":[0,200],"range":[816.7,456],"zero":false,"nice":false},"axis":null},"detail":{"field":"s","type":"nominal"},"order":{"field":"o","type":"quantitative"},"strokeDash":{"condition":[{"test":"datum.t=='d'","value":[3,2]},{"test":"datum.t=='c'","value":[5,2,1,2]}],"value":[1,0]}}},
{"data":{"name":"rules"},"transform":[{"filter":"datum.P=='D'"}],"mark":{"type":"rule","color":"black","strokeWidth":0.9},
"encoding":{"x":{"field":"x","type":"quantitative","scale":{"domain":[0,100],"range":[49.3,230],"zero":false,"nice":false},"axis":{"orient":"top","offset":-456,"values":[0,50,100],"ticks":false,"labelPadding":6,"title":"Relative productivity, and I (%)","titleX":140,"titleY":-29,"titleAngle":0,"titleAlign":"center","titleBaseline":"middle"}},"x2":{"field":"x2"},
"y":{"field":"y","type":"quantitative","scale":{"domain":[0,200],"range":[816.7,456],"zero":false,"nice":false},"axis":{"orient":"left","offset":-49.3,"values":[0,50,100,150,200],"tickSize":-7,"labelPadding":9.5,"title":"Height (cm)","titleX":-41,"titleY":640,"titleAngle":-90,"titleAlign":"center","titleBaseline":"middle"}},"y2":{"field":"y2"}}},
{"data":{"name":"curves"},"transform":[{"filter":"datum.P=='D'"}],"mark":{"type":"line","color":"black"},
"encoding":{"x":{"field":"p","type":"quantitative","scale":{"domain":[0,100],"range":[49.3,230],"zero":false,"nice":false},"axis":null},"y":{"field":"h","type":"quantitative","scale":{"domain":[0,200],"range":[816.7,456],"zero":false,"nice":false},"axis":null},"detail":{"field":"c","type":"nominal"},"order":{"field":"h","type":"quantitative"},"strokeDash":{"condition":{"test":"datum.c=='RP'","value":[4,3]},"value":[7,4]},"strokeWidth":{"condition":{"test":"datum.c=='RP'","value":1.8},"value":0.9}}},
{"data":{"name":"circles"},"transform":[{"filter":"datum.P=='D'"}],"mark":{"type":"point","shape":"circle","size":40,"filled":true,"fill":"white","stroke":"black","strokeWidth":0.9,"opacity":1},
"encoding":{"x":{"field":"p","type":"quantitative","scale":{"domain":[0,100],"range":[49.3,230],"zero":false,"nice":false},"axis":null},"y":{"field":"h","type":"quantitative","scale":{"domain":[0,200],"range":[816.7,456],"zero":false,"nice":false},"axis":null}}},
{"data":{"name":"circles"},"transform":[{"filter":"datum.P=='D'"}],"mark":{"type":"circle","size":2,"color":"black","opacity":1},
"encoding":{"x":{"field":"p","type":"quantitative","scale":{"domain":[0,100],"range":[49.3,230],"zero":false,"nice":false},"axis":null},"y":{"field":"h","type":"quantitative","scale":{"domain":[0,200],"range":[816.7,456],"zero":false,"nice":false},"axis":null}}},
{"data":{"name":"texts"},"transform":[{"filter":"datum.P=='D'"}],"mark":{"type":"text","fontSize":12,"align":"center","baseline":"middle","color":"black"},
"encoding":{"x":{"field":"g","type":"quantitative","scale":{"domain":[-100,0,100],"range":[49.3,230,322],"zero":false,"nice":false},"axis":null},"y":{"field":"h","type":"quantitative","scale":{"domain":[0,200],"range":[816.7,456],"zero":false,"nice":false},"axis":null},"text":{"field":"txt","type":"nominal"}}},

{"data":{"name":"rects"},"transform":[{"filter":"datum.P=='E'"}],"mark":{"type":"rect","stroke":"black","strokeWidth":0.8},
"encoding":{"x":{"field":"g0","type":"quantitative","scale":{"domain":[-100,0,100],"range":[418.3,596.5,694.5],"zero":false,"nice":false},"axis":{"orient":"bottom","offset":-33.7,"values":[-100,-75,-50,0,50,100],"ticks":false,"labelPadding":6.5,"labelLineHeight":14.5,"labelExpr":"datum.value==-100?'100':datum.value==-75?'F(g)':datum.value==-50?'50':datum.value==0?'0':datum.value==50?['50','25']:['100','50']","title":["C(g)","SN"],"titleX":664,"titleY":6.5,"titleAngle":0,"titleAlign":"center","titleBaseline":"top","titleLineHeight":14.5}},"x2":{"field":"g1"},
"y":{"field":"y0","type":"quantitative","scale":{"domain":[0,241],"range":[819.3,384],"zero":false,"nice":false},"axis":null},"y2":{"field":"y1"},
"fill":{"field":"k","type":"nominal","scale":{"domain":["H","B","G","W"],"range":["#cacaca","#000000","#a8a8a8","#ffffff"]},"legend":null}}},
{"data":{"name":"lines"},"transform":[{"filter":"datum.P=='E'"}],"mark":{"type":"line","color":"black","strokeWidth":0.9},
"encoding":{"x":{"field":"g","type":"quantitative","scale":{"domain":[-100,0,100],"range":[418.3,596.5,694.5],"zero":false,"nice":false},"axis":null},"y":{"field":"h","type":"quantitative","scale":{"domain":[0,241],"range":[819.3,384],"zero":false,"nice":false},"axis":null},"detail":{"field":"s","type":"nominal"},"order":{"field":"o","type":"quantitative"},"strokeDash":{"condition":[{"test":"datum.t=='d'","value":[3,2]},{"test":"datum.t=='c'","value":[5,2,1,2]}],"value":[1,0]}}},
{"data":{"name":"rules"},"transform":[{"filter":"datum.P=='E'"}],"mark":{"type":"rule","color":"black","strokeWidth":0.9},
"encoding":{"x":{"field":"x","type":"quantitative","scale":{"domain":[0,100],"range":[418.3,596.5],"zero":false,"nice":false},"axis":{"orient":"top","offset":-384,"values":[0,50,100],"ticks":false,"labelPadding":3,"title":"Relative productivity, and I (%)","titleX":517,"titleY":-22,"titleAngle":0,"titleAlign":"center","titleBaseline":"middle"}},"x2":{"field":"x2"},
"y":{"field":"y","type":"quantitative","scale":{"domain":[0,241],"range":[819.3,384],"zero":false,"nice":false},"axis":{"orient":"left","offset":-418.3,"values":[0,50,100,150,200],"tickSize":-7,"labelPadding":13.5,"title":"Height (cm)","titleX":-49,"titleY":605,"titleAngle":-90,"titleAlign":"center","titleBaseline":"middle"}},"y2":{"field":"y2"}}},
{"data":{"name":"curves"},"transform":[{"filter":"datum.P=='E'"}],"mark":{"type":"line","color":"black"},
"encoding":{"x":{"field":"p","type":"quantitative","scale":{"domain":[0,100],"range":[418.3,596.5],"zero":false,"nice":false},"axis":null},"y":{"field":"h","type":"quantitative","scale":{"domain":[0,241],"range":[819.3,384],"zero":false,"nice":false},"axis":null},"detail":{"field":"c","type":"nominal"},"order":{"field":"h","type":"quantitative"},"strokeDash":{"condition":{"test":"datum.c=='RP'","value":[4,3]},"value":[7,4]},"strokeWidth":{"condition":{"test":"datum.c=='RP'","value":1.8},"value":0.9}}},
{"data":{"name":"circles"},"transform":[{"filter":"datum.P=='E'"}],"mark":{"type":"point","shape":"circle","size":40,"filled":true,"fill":"white","stroke":"black","strokeWidth":0.9,"opacity":1},
"encoding":{"x":{"field":"p","type":"quantitative","scale":{"domain":[0,100],"range":[418.3,596.5],"zero":false,"nice":false},"axis":null},"y":{"field":"h","type":"quantitative","scale":{"domain":[0,241],"range":[819.3,384],"zero":false,"nice":false},"axis":null}}},
{"data":{"name":"circles"},"transform":[{"filter":"datum.P=='E'"}],"mark":{"type":"circle","size":2,"color":"black","opacity":1},
"encoding":{"x":{"field":"p","type":"quantitative","scale":{"domain":[0,100],"range":[418.3,596.5],"zero":false,"nice":false},"axis":null},"y":{"field":"h","type":"quantitative","scale":{"domain":[0,241],"range":[819.3,384],"zero":false,"nice":false},"axis":null}}},
{"data":{"name":"texts"},"transform":[{"filter":"datum.P=='E'"}],"mark":{"type":"text","fontSize":12,"align":"center","baseline":"middle","color":"black"},
"encoding":{"x":{"field":"g","type":"quantitative","scale":{"domain":[-100,0,100],"range":[418.3,596.5,694.5],"zero":false,"nice":false},"axis":null},"y":{"field":"h","type":"quantitative","scale":{"domain":[0,241],"range":[819.3,384],"zero":false,"nice":false},"axis":null},"text":{"field":"txt","type":"nominal"}}}
]
}
